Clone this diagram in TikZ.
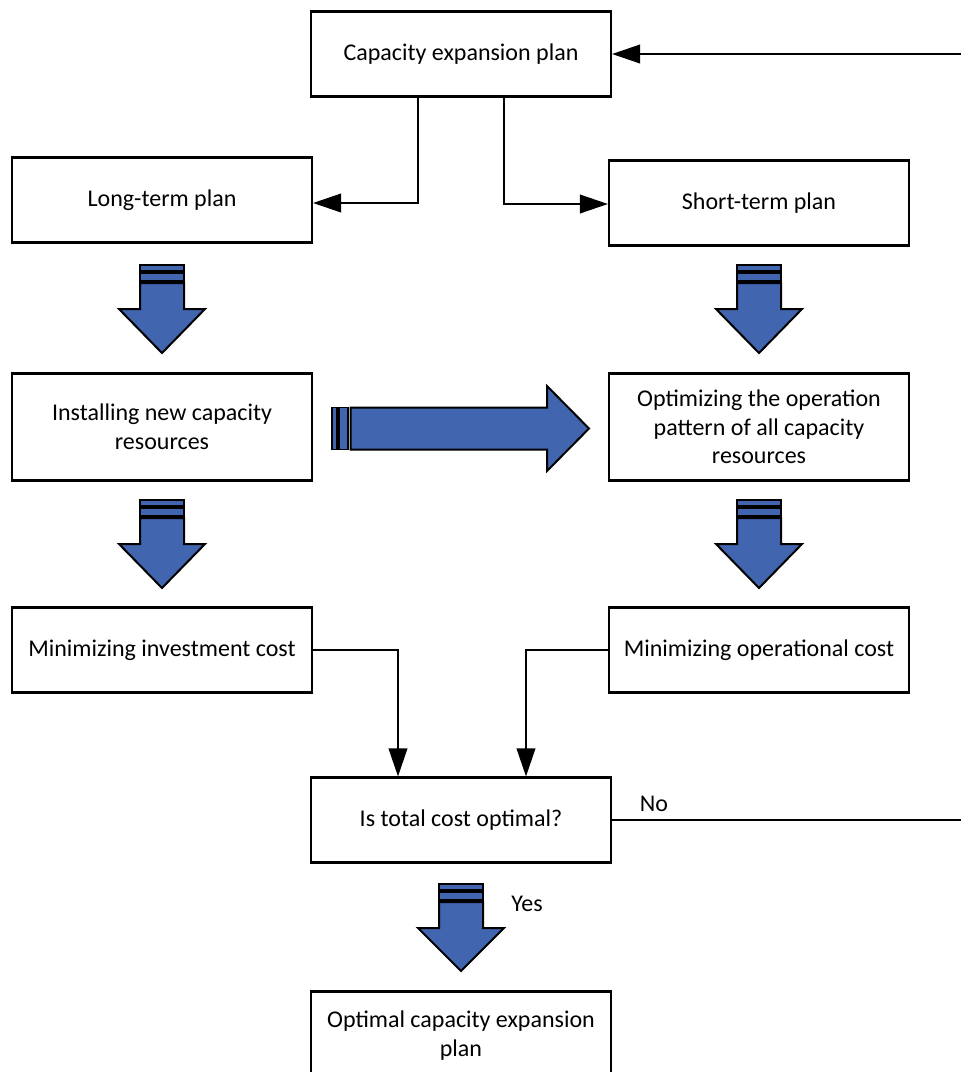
\documentclass[tikz,border=0pt]{standalone}
\usepackage{fontspec}
\setmainfont{Carlito}
\usetikzlibrary{arrows.meta}

\definecolor{arrowblue}{RGB}{65,101,175}

\begin{document}
\begin{tikzpicture}[x=0.75pt,y=0.75pt,yscale=-1,xscale=1,
  box/.style={draw,line width=1.6pt,rectangle,minimum width=225pt,minimum height=63.75pt,align=center,font=\fontsize{18}{21.4}\selectfont,inner sep=0pt},
  tallbox/.style={box,minimum height=80.25pt},
  conn/.style={draw,line width=1.2pt,-{Triangle[length=21pt,width=14pt]}},
  plainline/.style={draw,line width=1.2pt},
  blockarrow/.style={draw,line width=1.5pt,fill=arrowblue,line join=miter},
  stripe/.style={draw,line width=1pt,fill=arrowblue},
  lbl/.style={inner sep=0pt,font=\fontsize{18}{21}\selectfont}]
\useasboundingbox (0,0) rectangle (961,1072);

% Boxes
\node [box] (cap) at (461,54) {Capacity expansion plan};
\node [box] (long) at (162,200) {Long-term plan};
\node [box] (short) at (759,203) {Short-term plan};
\node [tallbox] (install) at (162,427) {Installing new capacity\\resources};
\node [tallbox] (optim) at (759,427) {Optimizing the operation\\pattern of all capacity\\resources};
\node [box] (invest) at (162,650) {Minimizing investment cost};
\node [box] (oper) at (759,650) {Minimizing operational cost};
\node [box] (decide) at (461,820) {Is total cost optimal?};
\node [box,minimum height=66pt] (final) at (461,1035.5) {Optimal capacity expansion\\plan};

% Labels
\node [lbl] (lblno) at (654,804) {No};
\node [lbl] (lblyes) at (527,904) {Yes};

% Helper points
\coordinate (lsplit) at (418,203);
\coordinate (rsplit) at (504,204);
\coordinate (ljoin) at (398,650);
\coordinate (rjoin) at (526,650);
\coordinate (fbtop) at (961,54);
\coordinate (fbbot) at (961,820);

% Connectors
\draw [conn] (cap.south -| lsplit) |- (long.east |- lsplit);
\draw [conn] (cap.south -| rsplit) |- (short.west |- rsplit);
\draw [conn] (fbtop) -- (cap.east);
\draw [conn] (invest.east) -| (decide.north -| ljoin);
\draw [conn] (oper.west) -| (decide.north -| rjoin);
\draw [plainline] (decide.east) -- (fbbot);

%Shape: Down Arrow (long-term)
\draw [stripe] (140,265) rectangle (184,271);
\draw [stripe] (140,273) rectangle (184,281);
\draw [blockarrow] (140,283) -- (184,283) -- (184,309) -- (205,309) -- (162,353) -- (119,309) -- (140,309) -- cycle;
%Shape: Down Arrow (short-term)
\draw [stripe] (737,265) rectangle (781,271);
\draw [stripe] (737,273) rectangle (781,281);
\draw [blockarrow] (737,283) -- (781,283) -- (781,309) -- (802,309) -- (759,353) -- (716,309) -- (737,309) -- cycle;
%Shape: Down Arrow (installing)
\draw [stripe] (140,500) rectangle (184,506);
\draw [stripe] (140,508) rectangle (184,516);
\draw [blockarrow] (140,518) -- (184,518) -- (184,544) -- (205,544) -- (162,588) -- (119,544) -- (140,544) -- cycle;
%Shape: Down Arrow (optimizing)
\draw [stripe] (737,500) rectangle (781,506);
\draw [stripe] (737,508) rectangle (781,516);
\draw [blockarrow] (737,518) -- (781,518) -- (781,544) -- (802,544) -- (759,588) -- (716,544) -- (737,544) -- cycle;
%Shape: Down Arrow (yes)
\draw [stripe] (439,884) rectangle (483,890);
\draw [stripe] (439,892) rectangle (483,900);
\draw [blockarrow] (439,902) -- (483,902) -- (483,928) -- (504,928) -- (461,971) -- (418,928) -- (439,928) -- cycle;
%Shape: Right Arrow (install to optimize)
\draw [stripe] (332,407.5) rectangle (337,449.5);
\draw [stripe] (339,407.5) rectangle (348,449.5);
\draw [blockarrow] (350.5,407.5) -- (547,407.5) -- (547,386) -- (589,428.5) -- (547,471) -- (547,449.5) -- (350.5,449.5) -- cycle;

\end{tikzpicture}
\end{document}
